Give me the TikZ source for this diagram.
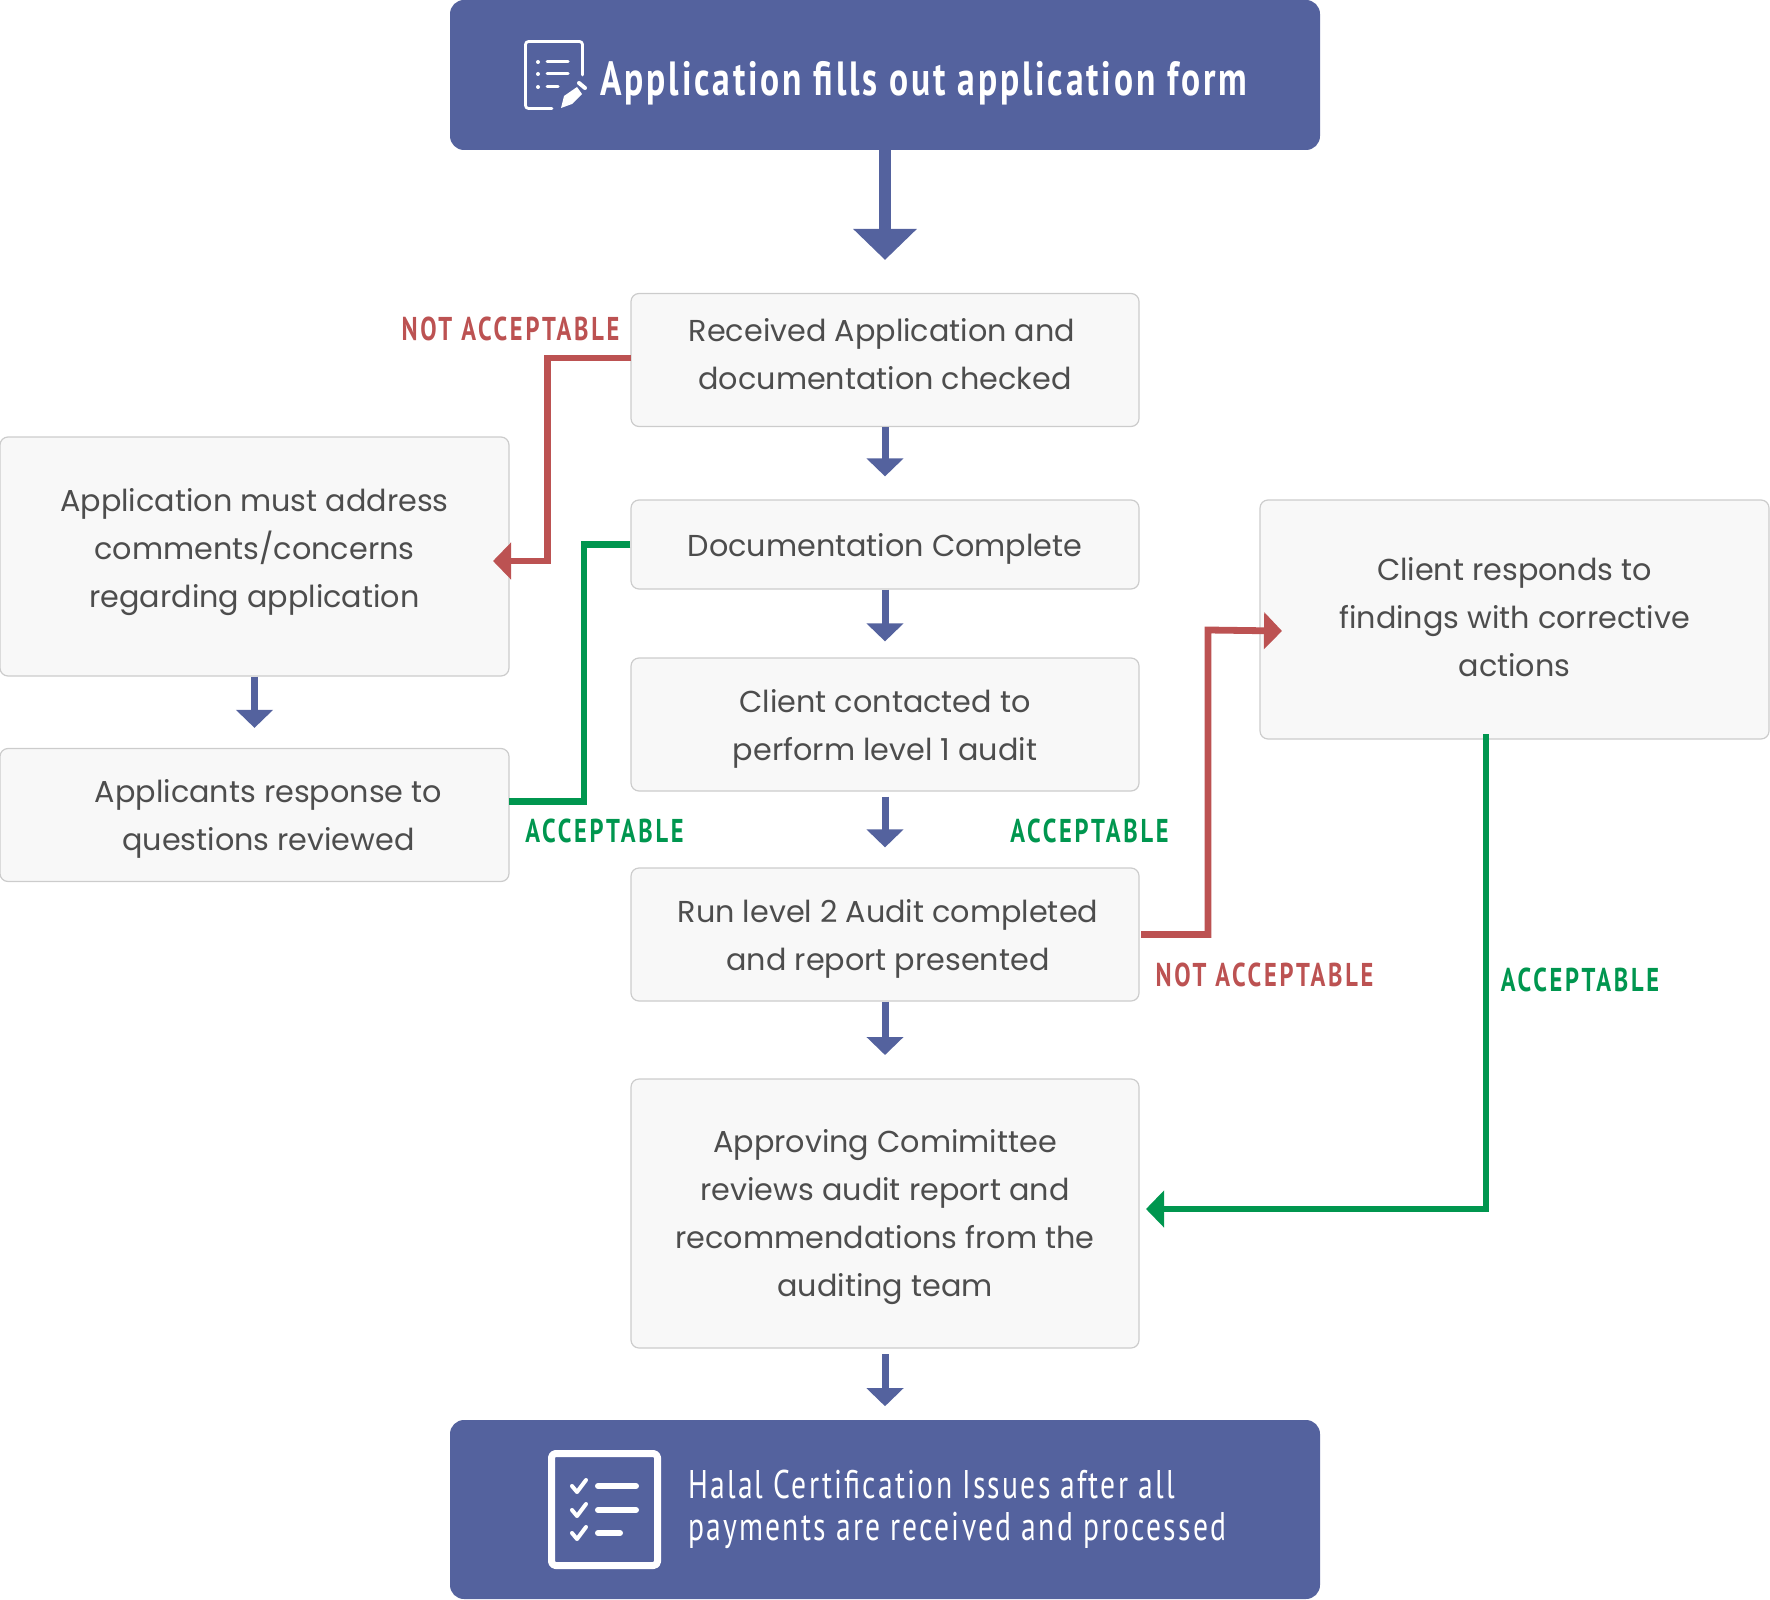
\documentclass[tikz,border=0pt]{standalone}
\usepackage{fontspec}
\setmainfont{Poppins}
\newfontfamily\narrowfont[FakeStretch=0.74,LetterSpace=5.6]{PT Sans}
\newfontfamily\titlefont[FakeStretch=0.74,LetterSpace=5.9]{PT Sans}
\newfontfamily\labelfont[FakeStretch=0.74,LetterSpace=8.3]{PT Sans}
\usetikzlibrary{arrows.meta}

\definecolor{halalblue}{HTML}{54629E}
\definecolor{notokred}{HTML}{BC5252}
\definecolor{okgreen}{HTML}{00964F}
\definecolor{boxfill}{HTML}{F8F8F8}
\definecolor{boxline}{HTML}{CCCCCC}
\definecolor{boxtext}{HTML}{4D4D4D}

\newcommand{\topstrut}{\rule{0pt}{15.5pt}}

\tikzset{
  stepbox/.style={draw=boxline, line width=0.6pt, fill=boxfill, rounded corners=4pt, text=boxtext,
    align=center, inner sep=0pt, font=\fontsize{15.12}{24}\selectfont,
    execute at end node={\rule[-3.5pt]{0pt}{0pt}}},
  lifted/.style={execute at end node={\rule[-#1]{0pt}{0pt}}},
  headbox/.style={fill=halalblue, rounded corners=7pt, text=white, inner sep=0pt},
  bluearrow/.style={draw=halalblue, line width=3.5pt, -{Triangle[width=18pt,length=9pt]}},
  bigarrow/.style={draw=halalblue, line width=6.4pt, -{Triangle[width=31pt,length=15.5pt]}},
  redline/.style={draw=notokred, line width=3.4pt, -{Triangle[width=18pt,length=9pt]}},
  greenline/.style={draw=okgreen, line width=3.4pt, -{Triangle[width=18pt,length=9pt]}},
  greentail/.style={draw=okgreen, line width=3.4pt},
  redlabel/.style={text=notokred, font=\labelfont\bfseries\fontsize{16.5}{20}\selectfont},
  greenlabel/.style={text=okgreen, font=\labelfont\bfseries\fontsize{16.5}{20}\selectfont},
  iconline/.style={draw=white, line cap=round, line join=round},
}

\begin{document}
\begin{tikzpicture}[x=0.5pt,y=-0.5pt]

\useasboundingbox (0,0) rectangle (1770,1599);

% header and footer
\node[headbox, minimum width=435pt, minimum height=75pt] (apply) at (885,75) {};
\node[headbox, minimum width=435pt, minimum height=89.5pt] (issue) at (885,1509.5) {};

% centre column
\node[stepbox, lifted=9.7pt, minimum width=254pt, minimum height=66.5pt] (recv) at (885,360)
  {\topstrut Received Application and\hspace*{3pt}\\documentation checked};
\node[stepbox, minimum width=254pt, minimum height=44.5pt] (docs) at (885,544.5) {\topstrut Documentation Complete};
\node[stepbox, minimum width=254pt, minimum height=66.5pt] (cont) at (885,724.5)
  {\topstrut Client contacted to\\perform level 1 audit};
\node[stepbox, minimum width=254pt, minimum height=66.5pt] (run) at (885,934.5)
  {\topstrut\hspace*{3pt}Run level 2 Audit completed\\\hspace*{3pt}and report presented};
\node[stepbox, minimum width=254pt, minimum height=134.5pt] (appr) at (885,1213.5)
  {\topstrut Approving Comimittee\\reviews audit report and\\recommendations from the\\auditing team};

% left and right columns
\node[stepbox, lifted=12.5pt, minimum width=254.5pt, minimum height=119.5pt] (addr) at (254.5,556.5)
  {\topstrut Application must address\\comments/concerns\\regarding application};
\node[stepbox, minimum width=254.5pt, minimum height=66.5pt] (resp) at (254.5,815)
  {\topstrut\hspace*{14pt}Applicants response to\\\hspace*{14pt}questions reviewed};
\node[stepbox, lifted=6.9pt, minimum width=254.5pt, minimum height=119.5pt] (corr) at (1514.5,619.5)
  {\topstrut Client responds to\\findings with corrective\\actions};

% straight arrows
\draw[bigarrow, shorten >=16.5pt] (apply) -- (apply |- recv.north);
\draw[bluearrow, shorten >=11.5pt] (recv) -- (docs);
\draw[bluearrow, shorten >=8pt] (docs) -- (cont);
\draw[bluearrow, shorten <=2.5pt, shorten >=10pt] (cont) -- (run);
\draw[bluearrow, shorten >=11.7pt] (run) -- (appr);
\draw[bluearrow, shorten <=2.8pt, shorten >=6.7pt] (appr) -- (issue);
\draw[bluearrow, shorten >=10pt] (addr) -- (resp);

% elbow connectors
\coordinate (recvOut) at (631,358);
\coordinate (redA) at (547.5,561);
\coordinate (addrIn) at (493,561);
\coordinate (greenA) at (584,801.5);
\coordinate (respOut) at (509,801.5);
\coordinate (runOut) at (1141,934.5);
\coordinate (redB) at (1208,630);
\coordinate (corrIn) at (1282,631);
\coordinate (corrOut) at (1486,734);
\coordinate (greenB) at (1486,1209);
\coordinate (apprIn) at (1146,1209);

\draw[redline] (recvOut) -| (redA) -- (addrIn);
\draw[greentail] (docs.west) -| (greenA) -- (respOut);
\draw[redline] (runOut) -| (redB) -- (corrIn);
\draw[greenline] (corrOut) -- (greenB) -- (apprIn);

% labels
\node[redlabel] (lblnotA) at (510.5,329) {NOT ACCEPTABLE};
\node[greenlabel] (lbloka) at (604.5,831) {ACCEPTABLE};
\node[greenlabel] (lblokb) at (1089.5,831) {ACCEPTABLE};
\node[redlabel] (lblnotB) at (1264.5,975) {NOT ACCEPTABLE};
\node[greenlabel] (lblokc) at (1580,980) {ACCEPTABLE};

% header and footer text
\node[text=white, anchor=west, font=\titlefont\bfseries\fontsize{24}{30}\selectfont] (applytxt) at (593.5,83)
  {Application fills out application form};
\node[text=white, anchor=west, align=left, font=\narrowfont\fontsize{20}{21}\selectfont] (issuetxt) at (681,1509)
  {Halal Certification Issues after all\\payments are received and processed};

% form icon
\draw[iconline, line width=1.4pt, rounded corners=1.5pt] (582.5,75) -- (582.5,41.5) -- (525.5,41.5) -- (525.5,108.5) -- (552,108.5);
\foreach \ypos/\xend in {62/568,74/568,87/558} {
  \fill[white] (538,\ypos) circle (1pt);
  \draw[iconline, line width=1.5pt] (547,\ypos) -- (\xend,\ypos);
}
\fill[white] (561,108) -- (564,96) -- (577,87) -- (582,94) -- (572,104) -- cycle;
\draw[iconline, line width=2pt] (579,83) -- (585,88);

% checklist icon
\draw[iconline, line width=3.5pt, rounded corners=2pt] (551.5,1453.5) rectangle (657.5,1565.5);
\foreach \ypos/\xend in {1486/636,1510/636,1533/620} {
  \draw[iconline, line width=2pt] (572,\ypos) -- (577,\ypos+6) -- (586,\ypos-6);
  \draw[iconline, line width=3pt] (598,\ypos) -- (\xend,\ypos);
}

\end{tikzpicture}
\end{document}
